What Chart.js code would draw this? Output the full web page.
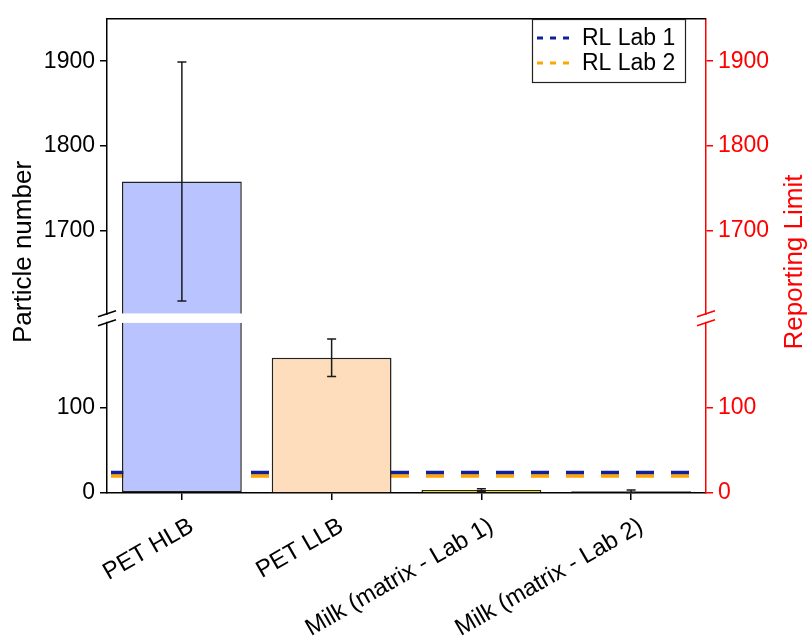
<!DOCTYPE html>
<html>
<head>
<meta charset="utf-8">
<script src="https://cdn.jsdelivr.net/npm/chart.js@4/dist/chart.umd.min.js"></script>
<style>
  body { margin: 0; background: #fff; }
  canvas { display: block; }
</style>
</head>
<body>
<canvas id="chart" width="809" height="639"></canvas>
<script>
// data
const categories = ["PET HLB", "PET LLB", "Milk (matrix - Lab 1)", "Milk (matrix - Lab 2)"];
const particleNumber = [1758, 159, 3.5, 2];
const particleError = [141, 22, 1.5, 1.5];
const barColors = ["#b9c3ff", "#fdddbb", "#f2e200", "#111111"];
const reportingLimitLab1 = 24;
const reportingLimitLab2 = 20;
const lowTicks = [0, 100];
const highTicks = [1700, 1800, 1900];

// broken axis ranges
const lowCut = 200;      // lower segment is cut here
const lowAxisMax = 210.5;
const highAxisMin = 1602;
const highAxisMax = 1950;

const FONT = "'Liberation Sans', Arial, sans-serif";
const RED = "#ff0000";

// bars split over the two axis segments
const lowBars = particleNumber.map((v) => [0, Math.min(v, lowCut)]);
const highBars = particleNumber.map((v) => (v > highAxisMin ? [highAxisMin, v] : null));

function yScaleOpts(stack, position, weight, min, max, tickList, color) {
  return {
    type: "linear",
    position: position,
    stack: stack,
    stackWeight: weight,
    min: min,
    max: max,
    afterBuildTicks: (scale) => {
      scale.ticks = tickList.map((v) => ({ value: v }));
    },
    afterFit: (scale) => {
      scale.width = position === "left" ? 107 : 103;
    },
    grid: {
      display: true,
      drawOnChartArea: false,
      drawTicks: true,
      tickLength: 7,
      color: color,
      lineWidth: 1.5,
    },
    border: { display: true, color: color, width: 1.5 },
    ticks: {
      color: color,
      padding: 5,
      font: { family: FONT, size: 23 },
      callback: (v) => String(v),
    },
  };
}

// error bars, break marks, titles, legend, top frame
const extrasPlugin = {
  id: "extras",
  afterDatasetsDraw(chart) {
    const ctx = chart.ctx;
    const x = chart.scales.x;
    const yLow = chart.scales.yLow;
    const yHigh = chart.scales.yHigh;
    const yPix = (v) =>
      v > highAxisMin ? yHigh.getPixelForValue(v) : yLow.getPixelForValue(Math.min(v, lowCut));
    ctx.save();
    ctx.strokeStyle = "#1a1a1a";
    ctx.lineWidth = 1.5;
    particleNumber.forEach((v, i) => {
      const cx = x.getPixelForValue(i);
      const top = yPix(v + particleError[i]);
      const bot = yPix(Math.max(v - particleError[i], 0));
      ctx.beginPath();
      ctx.moveTo(cx, top);
      ctx.lineTo(cx, bot);
      ctx.moveTo(cx - 4.5, top);
      ctx.lineTo(cx + 4.5, top);
      ctx.moveTo(cx - 4.5, bot);
      ctx.lineTo(cx + 4.5, bot);
      ctx.stroke();
    });
    ctx.restore();
  },
  afterDraw(chart) {
    const ctx = chart.ctx;
    const area = chart.chartArea;
    const yLow = chart.scales.yLow;
    const yHigh = chart.scales.yHigh;

    // top frame line
    ctx.save();
    ctx.strokeStyle = "#000";
    ctx.lineWidth = 1.5;
    ctx.beginPath();
    ctx.moveTo(area.left, area.top);
    ctx.lineTo(area.right, area.top);
    ctx.stroke();

    // axis break marks
    const y1 = yHigh.bottom;
    const y2 = yLow.getPixelForValue(lowCut);
    [[area.left, "#000"], [area.right, RED]].forEach(([ax, col]) => {
      ctx.fillStyle = "#fff";
      ctx.fillRect(ax - 3, y1 + 1, 6, Math.max(y2 - y1 - 2, 0));
      ctx.strokeStyle = col;
      ctx.lineWidth = 1.5;
      ctx.beginPath();
      ctx.moveTo(ax - 9, y1 + 3);
      ctx.lineTo(ax + 9, y1 - 3);
      ctx.moveTo(ax - 9, y2 + 3);
      ctx.lineTo(ax + 9, y2 - 3);
      ctx.stroke();
    });

    // axis titles
    ctx.font = "26px " + FONT;
    ctx.textAlign = "center";
    ctx.textBaseline = "middle";
    ctx.fillStyle = "#000";
    ctx.save();
    ctx.translate(24, 252);
    ctx.rotate(-Math.PI / 2);
    ctx.fillText("Particle number", 0, 0);
    ctx.restore();
    ctx.fillStyle = RED;
    ctx.save();
    ctx.translate(795, 262);
    ctx.rotate(-Math.PI / 2);
    ctx.fillText("Reporting Limit", 0, 0);
    ctx.restore();

    // legend
    ctx.strokeStyle = "#222";
    ctx.lineWidth = 1.2;
    ctx.strokeRect(532.5, 19.5, 153, 63);
    ctx.font = "23px " + FONT;
    ctx.textAlign = "left";
    ctx.fillStyle = "#000";
    chart.data.datasets
      .filter((ds) => ds.type === "line")
      .forEach((ds, i) => {
        const ly = 38 + i * 25;
        ctx.strokeStyle = ds.borderColor;
        ctx.lineWidth = 3;
        ctx.setLineDash([6, 7]);
        ctx.beginPath();
        ctx.moveTo(537, ly);
        ctx.lineTo(571, ly);
        ctx.stroke();
        ctx.setLineDash([]);
        ctx.fillText(ds.label, 582, ly + 1);
      });
    ctx.restore();
  },
};

function rlLine(label, value, color) {
  return {
    type: "line",
    label: label,
    data: [
      { x: 0, y: value },
      { x: categories.length, y: value },
    ],
    xAxisID: "x2",
    yAxisID: "yLow",
    borderColor: color,
    borderWidth: 3.5,
    borderDash: [18, 17],
    borderDashOffset: -4,
    pointRadius: 0,
    order: 2,
  };
}

new Chart(document.getElementById("chart"), {
  data: {
    labels: categories,
    datasets: [
      {
        type: "bar",
        label: "low",
        data: lowBars,
        yAxisID: "yLow",
        grouped: false,
        backgroundColor: barColors,
        borderColor: "#222",
        borderWidth: 1.5,
        borderSkipped: (c) => (particleNumber[c.dataIndex] > lowCut ? "top" : "bottom"),
        barPercentage: 0.8,
        categoryPercentage: 1.0,
        order: 0,
      },
      {
        type: "bar",
        label: "high",
        data: highBars,
        yAxisID: "yHigh",
        grouped: false,
        backgroundColor: barColors,
        borderColor: "#222",
        borderWidth: 1.5,
        borderSkipped: "bottom",
        barPercentage: 0.8,
        categoryPercentage: 1.0,
        order: 0,
      },
      rlLine("RL Lab 1", reportingLimitLab1, "#10209a"),
      rlLine("RL Lab 2", reportingLimitLab2, "#ffa500"),
    ],
  },
  options: {
    responsive: false,
    animation: false,
    layout: { padding: { top: 15, left: 0, right: 0, bottom: 0 } },
    plugins: {
      legend: { display: false },
      tooltip: { enabled: false },
    },
    scales: {
      x: {
        type: "category",
        position: "bottom",
        afterFit: (scale) => {
          scale.height = 146;
        },
        grid: {
          display: true,
          offset: false,
          drawOnChartArea: false,
          drawTicks: true,
          tickLength: 7,
          color: "#000",
          lineWidth: 1.5,
        },
        border: { display: true, color: "#000", width: 1.5 },
        ticks: {
          color: "#000",
          autoSkip: false,
          minRotation: 30,
          maxRotation: 30,
          padding: 12,
          labelOffset: 10,
          font: { family: FONT, size: 24 },
        },
      },
      x2: { type: "linear", display: false, min: 0, max: categories.length },
      // left stack is laid out bottom-first, right stack top-first
      yLow: yScaleOpts("left", "left", 181, 0, lowAxisMax, lowTicks, "#000"),
      yHigh: yScaleOpts("left", "left", 298, highAxisMin, highAxisMax, highTicks, "#000"),
      yHighR: yScaleOpts("right", "right", 298, highAxisMin, highAxisMax, highTicks, RED),
      yLowR: yScaleOpts("right", "right", 181, 0, lowAxisMax, lowTicks, RED),
    },
  },
  plugins: [extrasPlugin],
});
</script>
</body>
</html>
